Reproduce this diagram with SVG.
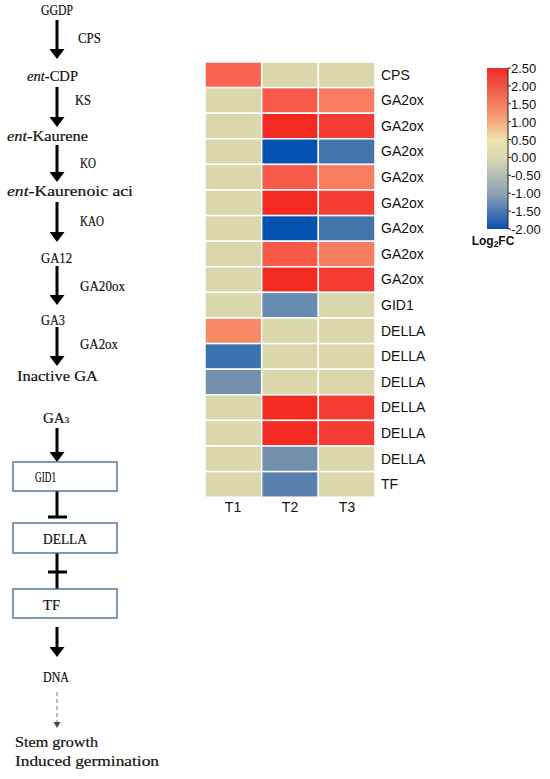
<svg xmlns="http://www.w3.org/2000/svg" width="550" height="779" viewBox="0 0 550 779">
<style>
.p{font-family:"Liberation Serif","Noto Serif",serif;font-size:15px;fill:#111;stroke:#111;stroke-width:0.2}
.h{font-family:"Liberation Sans",Arial,sans-serif;font-size:14px;fill:#111}
.c{font-family:"Liberation Sans",Arial,sans-serif;font-size:13px;fill:#111}
.ar{stroke:#000;stroke-width:3;fill:none}
.bx{fill:#fff;stroke:#41638a;stroke-width:1.3}
.cell{stroke:#fff;stroke-width:1.5}
</style>
<defs>
<marker id="ah" viewBox="0 0 10 15" markerWidth="10" markerHeight="15" markerUnits="userSpaceOnUse" refX="2" refY="7.5" orient="auto"><path d="M0,0 L10,7.5 L0,15 z" fill="#000"/></marker>
<marker id="ahs" viewBox="0 0 6 7" markerWidth="6" markerHeight="7" markerUnits="userSpaceOnUse" refX="1" refY="3.5" orient="auto"><path d="M0,0 L6,3.5 L0,7 z" fill="#444"/></marker>
<linearGradient id="cb" x1="0" y1="0" x2="0" y2="1">
<stop offset="0" stop-color="#ee2b25"/>
<stop offset="0.3" stop-color="#f59a74"/>
<stop offset="0.45" stop-color="#efe4ab"/>
<stop offset="0.56" stop-color="#d8d8b2"/>
<stop offset="0.78" stop-color="#8ea2b8"/>
<stop offset="1" stop-color="#0c4ead"/>
</linearGradient>
</defs>

<g id="connectors">
<line class="ar" x1="57" y1="20" x2="57" y2="51" marker-end="url(#ah)"/>
<line class="ar" x1="57" y1="87" x2="57" y2="119" marker-end="url(#ah)"/>
<line class="ar" x1="57" y1="145" x2="57" y2="174" marker-end="url(#ah)"/>
<line class="ar" x1="57" y1="202" x2="57" y2="234" marker-end="url(#ah)"/>
<line class="ar" x1="57" y1="266" x2="57" y2="297" marker-end="url(#ah)"/>
<line class="ar" x1="57" y1="327" x2="57" y2="358" marker-end="url(#ah)"/>
<line class="ar" x1="57" y1="428" x2="57" y2="454" marker-end="url(#ah)"/>
<line class="ar" x1="57" y1="491" x2="57" y2="517"/>
<line class="ar" x1="48" y1="517" x2="67" y2="517"/>
<line class="ar" x1="57" y1="553" x2="57" y2="589"/>
<line class="ar" x1="48" y1="572" x2="67" y2="572"/>
<line class="ar" x1="57" y1="627" x2="57" y2="649" marker-end="url(#ah)"/>
<line x1="57" y1="692" x2="57" y2="723" stroke="#777" stroke-width="1" stroke-dasharray="4 3" marker-end="url(#ahs)"/>
</g>

<g id="pathway">
<text class="p" x="41" y="15" textLength="32" lengthAdjust="spacingAndGlyphs">GGDP</text>
<text class="p" x="78" y="43" textLength="23" lengthAdjust="spacingAndGlyphs">CPS</text>
<text class="p" x="27" y="81" textLength="51" lengthAdjust="spacingAndGlyphs"><tspan font-style="italic">ent</tspan>-CDP</text>
<text class="p" x="75" y="105" textLength="16" lengthAdjust="spacingAndGlyphs">KS</text>
<text class="p" x="7" y="141" textLength="81" lengthAdjust="spacingAndGlyphs"><tspan font-style="italic">ent</tspan>-Kaurene</text>
<text class="p" x="80" y="168" textLength="16" lengthAdjust="spacingAndGlyphs">KO</text>
<text class="p" x="7" y="196" textLength="126" lengthAdjust="spacingAndGlyphs"><tspan font-style="italic">ent</tspan>-Kaurenoic aci</text>
<text class="p" x="80" y="226" textLength="24" lengthAdjust="spacingAndGlyphs">KAO</text>
<text class="p" x="41" y="263" textLength="31" lengthAdjust="spacingAndGlyphs">GA12</text>
<text class="p" x="80" y="291" textLength="45" lengthAdjust="spacingAndGlyphs">GA20ox</text>
<text class="p" x="41" y="325" textLength="24" lengthAdjust="spacingAndGlyphs">GA3</text>
<text class="p" x="80" y="349" textLength="38" lengthAdjust="spacingAndGlyphs">GA2ox</text>
<text class="p" x="17" y="381" textLength="81" lengthAdjust="spacingAndGlyphs">Inactive GA</text>
</g>

<g id="ga3"><text class="p" x="43" y="423" font-size="14">GA<tspan font-size="9">3</tspan></text></g>
<g id="box-gid1"><rect class="bx" x="13" y="462" width="104" height="29"/><text class="p" x="35" y="482" font-size="14" textLength="21" lengthAdjust="spacingAndGlyphs">GID1</text></g>
<g id="box-della"><rect class="bx" x="13" y="523" width="104" height="30"/><text class="p" x="43" y="544" font-size="16" textLength="44" lengthAdjust="spacingAndGlyphs">DELLA</text></g>
<g id="box-tf"><rect class="bx" x="13" y="589" width="104" height="29"/><text class="p" x="43" y="610" font-size="16" textLength="17" lengthAdjust="spacingAndGlyphs">TF</text></g>
<g id="dna"><text class="p" x="43" y="682" font-size="16" textLength="26" lengthAdjust="spacingAndGlyphs">DNA</text></g>
<g id="outcome">
<text class="p" x="15" y="747" textLength="83" lengthAdjust="spacingAndGlyphs">Stem growth</text>
<text class="p" x="15" y="766" textLength="144" lengthAdjust="spacingAndGlyphs">Induced germination</text>
</g>

<g id="heatmap">
<g class="cell">
<rect x="205" y="62" width="56.7" height="25.6" fill="#f86450"/><rect x="261.7" y="62" width="56.7" height="25.6" fill="#d9d7ab"/><rect x="318.3" y="62" width="56.7" height="25.6" fill="#d9d7ab"/>
<rect x="205" y="87.6" width="56.7" height="25.6" fill="#d9d7ab"/><rect x="261.7" y="87.6" width="56.7" height="25.6" fill="#f75a48"/><rect x="318.3" y="87.6" width="56.7" height="25.6" fill="#f87d60"/>
<rect x="205" y="113.2" width="56.7" height="25.6" fill="#d9d7ab"/><rect x="261.7" y="113.2" width="56.7" height="25.6" fill="#f32a22"/><rect x="318.3" y="113.2" width="56.7" height="25.6" fill="#f53c32"/>
<rect x="205" y="138.8" width="56.7" height="25.6" fill="#d9d7ab"/><rect x="261.7" y="138.8" width="56.7" height="25.6" fill="#0352b0"/><rect x="318.3" y="138.8" width="56.7" height="25.6" fill="#4175ab"/>
<rect x="205" y="164.4" width="56.7" height="25.6" fill="#d9d7ab"/><rect x="261.7" y="164.4" width="56.7" height="25.6" fill="#f75a48"/><rect x="318.3" y="164.4" width="56.7" height="25.6" fill="#f87d60"/>
<rect x="205" y="190" width="56.7" height="25.6" fill="#d9d7ab"/><rect x="261.7" y="190" width="56.7" height="25.6" fill="#f32a22"/><rect x="318.3" y="190" width="56.7" height="25.6" fill="#f53c32"/>
<rect x="205" y="215.6" width="56.7" height="25.6" fill="#d9d7ab"/><rect x="261.7" y="215.6" width="56.7" height="25.6" fill="#0352b0"/><rect x="318.3" y="215.6" width="56.7" height="25.6" fill="#4175ab"/>
<rect x="205" y="241.2" width="56.7" height="25.6" fill="#d9d7ab"/><rect x="261.7" y="241.2" width="56.7" height="25.6" fill="#f75a48"/><rect x="318.3" y="241.2" width="56.7" height="25.6" fill="#f87d60"/>
<rect x="205" y="266.8" width="56.7" height="25.6" fill="#d9d7ab"/><rect x="261.7" y="266.8" width="56.7" height="25.6" fill="#f32a22"/><rect x="318.3" y="266.8" width="56.7" height="25.6" fill="#f53c32"/>
<rect x="205" y="292.4" width="56.7" height="25.6" fill="#d9d7ab"/><rect x="261.7" y="292.4" width="56.7" height="25.6" fill="#648bb0"/><rect x="318.3" y="292.4" width="56.7" height="25.6" fill="#d9d7ab"/>
<rect x="205" y="318" width="56.7" height="25.6" fill="#f98a68"/><rect x="261.7" y="318" width="56.7" height="25.6" fill="#d9d7ab"/><rect x="318.3" y="318" width="56.7" height="25.6" fill="#d9d7ab"/>
<rect x="205" y="343.6" width="56.7" height="25.6" fill="#3a72ad"/><rect x="261.7" y="343.6" width="56.7" height="25.6" fill="#d9d7ab"/><rect x="318.3" y="343.6" width="56.7" height="25.6" fill="#d9d7ab"/>
<rect x="205" y="369.2" width="56.7" height="25.6" fill="#7290aa"/><rect x="261.7" y="369.2" width="56.7" height="25.6" fill="#d9d7ab"/><rect x="318.3" y="369.2" width="56.7" height="25.6" fill="#d9d7ab"/>
<rect x="205" y="394.8" width="56.7" height="25.6" fill="#d9d7ab"/><rect x="261.7" y="394.8" width="56.7" height="25.6" fill="#f32a22"/><rect x="318.3" y="394.8" width="56.7" height="25.6" fill="#f53c32"/>
<rect x="205" y="420.4" width="56.7" height="25.6" fill="#d9d7ab"/><rect x="261.7" y="420.4" width="56.7" height="25.6" fill="#f32a22"/><rect x="318.3" y="420.4" width="56.7" height="25.6" fill="#f53c32"/>
<rect x="205" y="446" width="56.7" height="25.6" fill="#d9d7ab"/><rect x="261.7" y="446" width="56.7" height="25.6" fill="#7290aa"/><rect x="318.3" y="446" width="56.7" height="25.6" fill="#d9d7ab"/>
<rect x="205" y="471.6" width="56.7" height="25.6" fill="#d9d7ab"/><rect x="261.7" y="471.6" width="56.7" height="25.6" fill="#5a80ae"/><rect x="318.3" y="471.6" width="56.7" height="25.6" fill="#d9d7ab"/>
</g>
<text class="h" x="381" y="80">CPS</text>
<text class="h" x="381" y="105">GA2ox</text>
<text class="h" x="381" y="131">GA2ox</text>
<text class="h" x="381" y="156">GA2ox</text>
<text class="h" x="381" y="182">GA2ox</text>
<text class="h" x="381" y="208">GA2ox</text>
<text class="h" x="381" y="233">GA2ox</text>
<text class="h" x="381" y="259">GA2ox</text>
<text class="h" x="381" y="284">GA2ox</text>
<text class="h" x="381" y="310">GID1</text>
<text class="h" x="381" y="336">DELLA</text>
<text class="h" x="381" y="361">DELLA</text>
<text class="h" x="381" y="387">DELLA</text>
<text class="h" x="381" y="412">DELLA</text>
<text class="h" x="381" y="438">DELLA</text>
<text class="h" x="381" y="464">DELLA</text>
<text class="h" x="381" y="489">TF</text>
<text class="h" x="233" y="512" text-anchor="middle">T1</text>
<text class="h" x="290" y="512" text-anchor="middle">T2</text>
<text class="h" x="347" y="512" text-anchor="middle">T3</text>
</g>

<g id="colorbar">
<rect x="487" y="68" width="21" height="161" fill="url(#cb)"/>
<path d="M508,68 V229 M508,68 h3 M508,85.9 h3 M508,103.8 h3 M508,121.7 h3 M508,139.6 h3 M508,157.4 h3 M508,175.3 h3 M508,193.2 h3 M508,211.1 h3 M508,229 h3" stroke="#222" stroke-width="1" fill="none"/>
<text class="c" x="511" y="73">2.50</text>
<text class="c" x="511" y="91">2.00</text>
<text class="c" x="511" y="109">1.50</text>
<text class="c" x="511" y="127">1.00</text>
<text class="c" x="511" y="145">0.50</text>
<text class="c" x="511" y="162">0.00</text>
<text class="c" x="511" y="180">-0.50</text>
<text class="c" x="511" y="198">-1.00</text>
<text class="c" x="511" y="216">-1.50</text>
<text class="c" x="511" y="234">-2.00</text>
<text x="493" y="245" text-anchor="middle" font-family="Liberation Sans,Arial,sans-serif" font-size="12" font-weight="bold" fill="#111">Log<tspan font-size="8.5" dy="2">2</tspan><tspan dy="-2">FC</tspan></text>
</g>
</svg>
